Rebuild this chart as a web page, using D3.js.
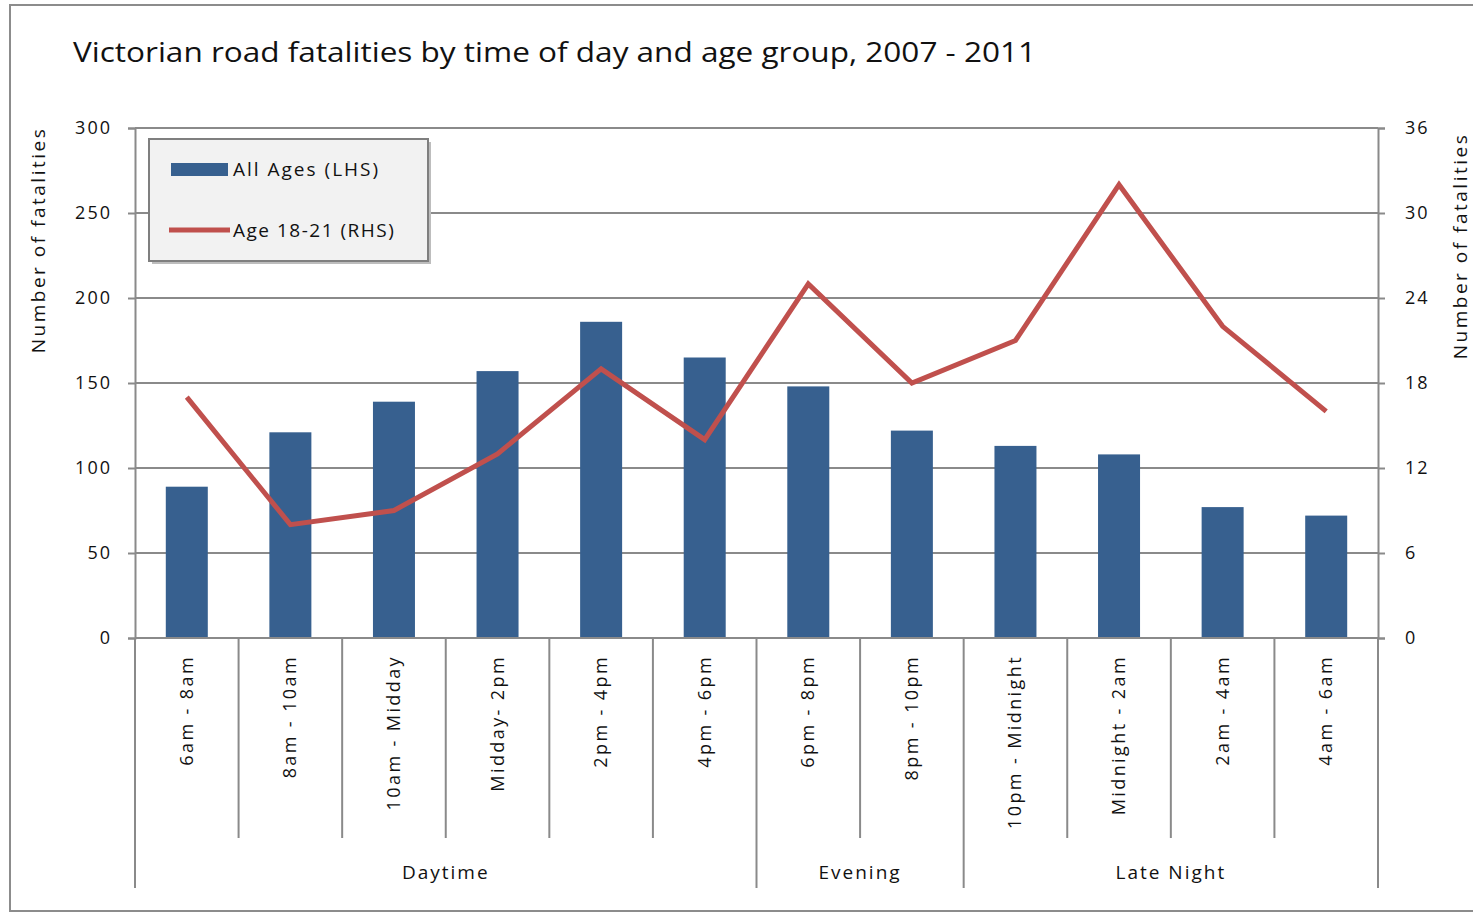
<!DOCTYPE html>
<html>
<head>
<meta charset="UTF-8">
<title>Victorian road fatalities</title>
<style>
  body { margin: 0; background: #fff; }
  svg text { font-family: "Open Sans", "DejaVu Sans", sans-serif; fill: #111; }
</style>
</head>
<body>
<svg width="1473" height="916"></svg>
<script src="https://d3js.org/d3.v7.min.js"></script>
<script>
// time slots along the x axis
var slots = ["6am - 8am", "8am - 10am", "10am - Midday", "Midday- 2pm", "2pm - 4pm", "4pm - 6pm",
             "6pm - 8pm", "8pm - 10pm", "10pm - Midnight", "Midnight - 2am", "2am - 4am", "4am - 6am"];
// all ages, left axis
var allAges = [89, 121, 139, 157, 186, 165, 148, 122, 113, 108, 77, 72];
// age 18-21, right axis
var age1821 = [17, 8, 9, 13, 19, 14, 25, 18, 21, 32, 22, 16];
// outer grouping of the slots
var groups = [
  {name: "Daytime", from: 0, to: 5},
  {name: "Evening", from: 6, to: 7},
  {name: "Late Night", from: 8, to: 11}
];
var leftTicks = [0, 50, 100, 150, 200, 250, 300];
var rightTicks = [0, 6, 12, 18, 24, 30, 36];

var svg = d3.select("svg");
var plotL = 135, plotR = 1378, plotT = 128, plotB = 638;
var gridCol = "#8a8a8a";

// chart frame
svg.append("rect")
  .attr("x", 10).attr("y", 5).attr("width", 1480).attr("height", 906)
  .attr("fill", "none").attr("stroke", "#8c8c8c").attr("stroke-width", 2);

var x = d3.scaleBand().domain(slots).range([plotL, plotR]);
var yL = d3.scaleLinear().domain([0, 300]).range([plotB, plotT]);
var yR = d3.scaleLinear().domain([0, 36]).range([plotB, plotT]);

// title
svg.append("text")
  .attr("x", 73).attr("y", 62)
  .style("font-size", "28px")
  .attr("textLength", 963).attr("lengthAdjust", "spacingAndGlyphs")
  .text("Victorian road fatalities by time of day and age group, 2007 - 2011");

// gridlines
svg.append("g").selectAll("line")
  .data(leftTicks.slice(1))
  .enter().append("line")
  .attr("x1", plotL).attr("x2", plotR)
  .attr("y1", function(d) { return yL(d); })
  .attr("y2", function(d) { return yL(d); })
  .attr("stroke", gridCol).attr("stroke-width", 2);

// left axis
var gl = svg.append("g").attr("transform", "translate(" + plotL + ",0)")
  .call(d3.axisLeft(yL).tickValues(leftTicks).tickSize(7).tickPadding(16));
// right axis
var gr = svg.append("g").attr("transform", "translate(" + plotR + ",0)")
  .call(d3.axisRight(yR).tickValues(rightTicks).tickSize(7).tickPadding(20));
[gl, gr].forEach(function(g) {
  g.select(".domain").attr("stroke", gridCol).attr("stroke-width", 2);
  g.selectAll(".tick line").attr("stroke", gridCol).attr("stroke-width", 2);
  g.selectAll(".tick text").style("font-size", "18px").attr("fill", "#111")
    .style("letter-spacing", "2px")
    .style("font-family", "'Open Sans', sans-serif");
});

// bars
var barW = 42;
svg.append("g").selectAll("rect")
  .data(allAges)
  .enter().append("rect")
  .attr("x", function(d, i) { return x(slots[i]) + x.bandwidth() / 2 - barW / 2; })
  .attr("y", function(d) { return yL(d); })
  .attr("width", barW)
  .attr("height", function(d) { return plotB - yL(d); })
  .attr("fill", "#37608f");

// category axis line
svg.append("line").attr("x1", plotL).attr("x2", plotR).attr("y1", plotB).attr("y2", plotB)
  .attr("stroke", gridCol).attr("stroke-width", 2);

// category separators, group edges run lower
var groupEdges = [0].concat(groups.map(function(g) { return g.to + 1; }));
svg.append("g").selectAll("line")
  .data(d3.range(0, slots.length + 1))
  .enter().append("line")
  .attr("x1", function(i) { return plotL + i * x.bandwidth(); })
  .attr("x2", function(i) { return plotL + i * x.bandwidth(); })
  .attr("y1", plotB)
  .attr("y2", function(i) { return groupEdges.indexOf(i) >= 0 ? 888 : 838; })
  .attr("stroke", gridCol).attr("stroke-width", 2);

// slot labels
svg.append("g").selectAll("text")
  .data(slots)
  .enter().append("text")
  .attr("transform", function(d) {
    return "translate(" + (x(d) + x.bandwidth() / 2 + 6) + ",655) rotate(-90)";
  })
  .attr("text-anchor", "end")
  .style("font-size", "18px")
  .style("letter-spacing", "2.4px")
  .text(function(d) { return d; });

// group labels
svg.append("g").selectAll("text")
  .data(groups)
  .enter().append("text")
  .attr("x", function(g) { return (x(slots[g.from]) + x(slots[g.to]) + x.bandwidth()) / 2; })
  .attr("y", 879)
  .attr("text-anchor", "middle")
  .style("font-size", "19px")
  .style("letter-spacing", "2px")
  .text(function(g) { return g.name; });

// line series
var line = d3.line()
  .x(function(d, i) { return x(slots[i]) + x.bandwidth() / 2; })
  .y(function(d) { return yR(d); });
svg.append("path")
  .datum(age1821)
  .attr("d", line)
  .attr("fill", "none")
  .attr("stroke", "#c0504d")
  .attr("stroke-width", 5)
  .attr("stroke-linejoin", "miter");

// axis titles
svg.append("text")
  .attr("transform", "translate(45,240) rotate(-90)")
  .attr("text-anchor", "middle")
  .style("font-size", "19px")
  .style("letter-spacing", "2.5px")
  .text("Number of fatalities");
svg.append("text")
  .attr("transform", "translate(1467,246) rotate(-90)")
  .attr("text-anchor", "middle")
  .style("font-size", "19px")
  .style("letter-spacing", "2.5px")
  .text("Number of fatalities");

// legend
var lg = svg.append("g");
lg.append("rect").attr("x", 152).attr("y", 142).attr("width", 279).attr("height", 122)
  .attr("fill", "#bdbdbd");
lg.append("rect").attr("x", 149).attr("y", 139).attr("width", 279).attr("height", 122)
  .attr("fill", "#f2f2f2").attr("stroke", "#7f7f7f").attr("stroke-width", 2);
lg.append("rect").attr("x", 171).attr("y", 163).attr("width", 57).attr("height", 13)
  .attr("fill", "#37608f");
lg.append("text").attr("x", 233).attr("y", 176).style("font-size", "19px")
  .style("letter-spacing", "2px").text("All Ages (LHS)");
lg.append("line").attr("x1", 169).attr("x2", 230).attr("y1", 230).attr("y2", 230)
  .attr("stroke", "#c0504d").attr("stroke-width", 5);
lg.append("text").attr("x", 233).attr("y", 237).style("font-size", "19px")
  .style("letter-spacing", "1.5px").text("Age 18-21 (RHS)");
</script>
</body>
</html>
